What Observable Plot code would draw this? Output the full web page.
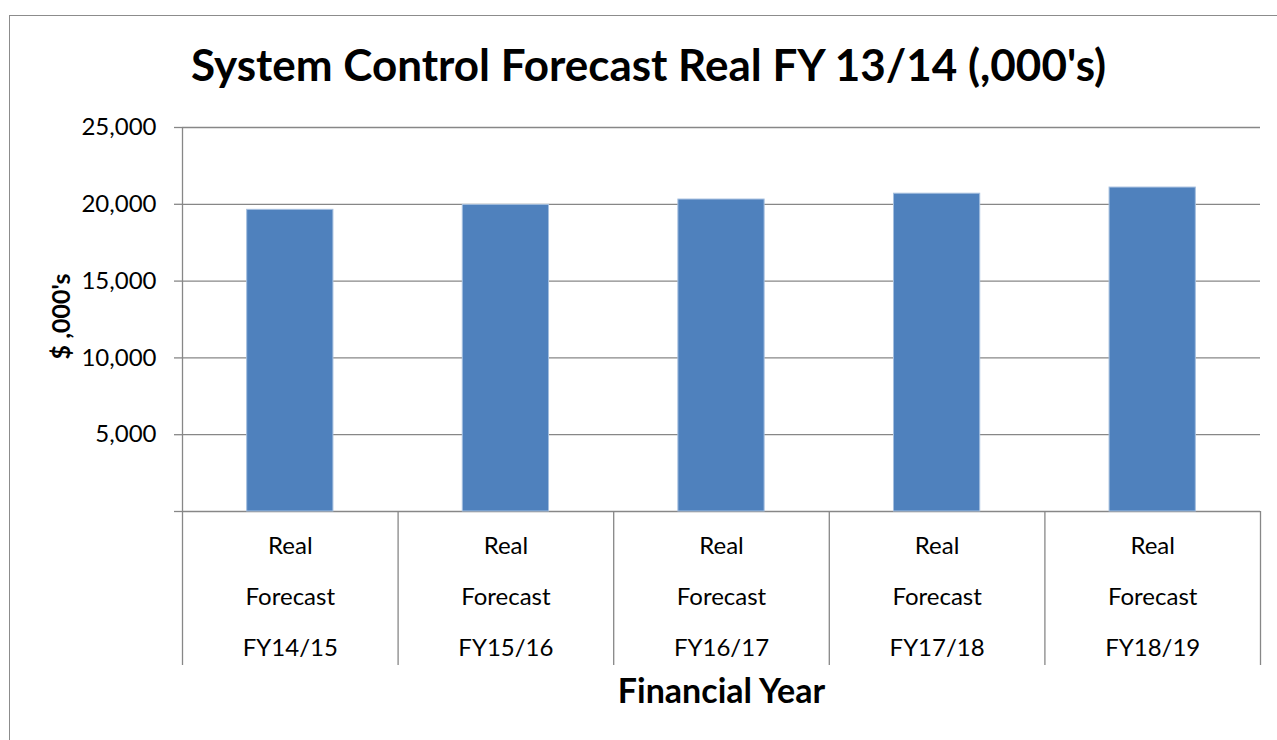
<!DOCTYPE html>
<html>
<head>
<meta charset="utf-8">
<script src="https://cdn.jsdelivr.net/npm/d3@7"></script>
<script src="https://cdn.jsdelivr.net/npm/@observablehq/plot@0.6"></script>
<style>
  html, body { margin: 0; padding: 0; background: #fff; }
  #wrap { position: relative; width: 1277px; height: 740px; overflow: hidden; }
  #border { position: absolute; left: 9px; top: 15px; width: 1300px; height: 800px; border: 1.5px solid #8c8c8c; box-sizing: border-box; }
  #chart { position: absolute; left: 0; top: 0; }
</style>
</head>
<body>
<div id="wrap"><div id="border"></div><div id="chart"></div></div>
<script>
const categories = ["FY14/15", "FY15/16", "FY16/17", "FY17/18", "FY18/19"];
const values = [19640, 19960, 20310, 20690, 21090];
const yTicks = [0, 5000, 10000, 15000, 20000, 25000];
const titleText = "System Control Forecast Real FY 13/14 (,000's)";
const xTitle = "Financial Year";
const yTitle = "$ ,000's";

const data = categories.map((c, i) => ({cat: c, i, value: values[i]}));
const boundaries = d3.range(categories.length + 1);
const font = "Lato, 'Open Sans', sans-serif";
const gray = "#878787";

const chart = Plot.plot({
  width: 1277,
  height: 740,
  marginLeft: 182,
  marginRight: 17,
  marginTop: 127,
  marginBottom: 229,
  style: {fontFamily: font, fontSize: "24px", color: "#000", background: "transparent", overflow: "visible"},
  x: {domain: [0, categories.length], axis: null},
  y: {domain: [0, 25000], axis: null},
  marks: [
    Plot.gridY(yTicks, {stroke: gray, strokeOpacity: 1, strokeWidth: 1.3}),
    Plot.axisY({ticks: yTicks, tickSize: 8, tickPadding: 18, stroke: gray, strokeOpacity: 1, strokeWidth: 1.3,
      tickFormat: d => d === 0 ? "" : d3.format(",")(d), fontSize: 24, fill: "#000", label: null}),
    Plot.ruleX([0], {stroke: gray, strokeWidth: 1.3}),
    Plot.axisX({ticks: boundaries, tickSize: 154, stroke: gray, strokeOpacity: 1, strokeWidth: 1.3, tickFormat: () => "", label: null}),
    Plot.rectY(data, {x1: d => d.i + 0.3, x2: d => d.i + 0.7, y: "value", fill: "#4f81bd", stroke: "#a5bfdf", strokeWidth: 1}),
    Plot.text(data, {x: d => d.i + 0.5, text: d => "Real\nForecast\n" + d.cat, frameAnchor: "bottom",
      lineAnchor: "middle", dy: 77, lineHeight: 2.117, fontSize: 24, fill: "#000"}),
    Plot.text([titleText], {frameAnchor: "top", lineAnchor: "middle", dx: -73, dy: -61, text: d => d, fontSize: 44, fontWeight: "bold", fill: "#000"}),
    Plot.text([xTitle], {frameAnchor: "bottom", lineAnchor: "middle", dy: 181, text: d => d, fontSize: 34, fontWeight: "bold", fill: "#000"}),
    Plot.text([yTitle], {frameAnchor: "left", textAnchor: "middle", lineAnchor: "middle", dx: -121, dy: -3, rotate: -90, text: d => d, fontSize: 25, fontWeight: "bold", fill: "#000"})
  ]
});
document.getElementById("chart").append(chart);
</script>
</body>
</html>
